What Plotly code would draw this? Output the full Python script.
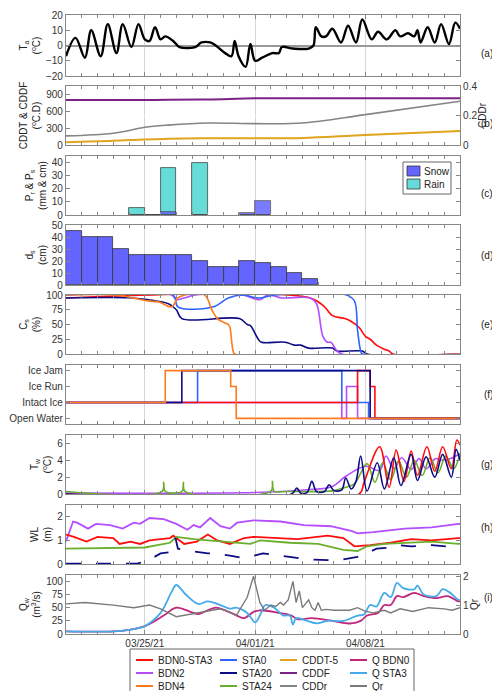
import pandas as pd
import plotly.graph_objects as go

BASE = pd.Timestamp("2021-03-20")
def T(days):
    return [BASE + pd.Timedelta(days=d) for d in days]

# (a) air temperature
ta_day = [0,0.6,1.2,1.6,2.2,2.65,3.2,3.6,4.15,4.6,5.0,5.3,5.65,6.0,6.3,6.8,7.2,8.2,8.6,9.15,9.5,10.1,10.5,10.7,10.95,11.4,11.7,12.0,12.45,13.1,13.5,13.7,14.4,15.4,15.7,15.85,16.2,16.5,16.9,17.45,17.9,18.4,18.8,19.4,19.8,20.35,20.9,21.2,21.7,22.1,22.3,22.5,22.95,23.4,23.8,24.3,24.7,25.0]
ta_val = [-7,5,-8,10,-7,14,-5,14,-1,14,4,3,12,4,6,3,-1,-1,2,2,0,-5,-7,3,-7,-14,1,-10,-8,-5,-5,-1,-2,-2,0,12,6,6,11,2,13,2,17,4,9,4,10,6,8,6,10,2,12,2,14,1,15,11]

# (b) cumulative degree days
b_day = [0,3,5,6.5,9,12,15,19,25]
cddt5 = [50,75,100,110,120,120,125,180,250]
cddf = [800,800,800,805,810,830,830,830,830]
cddr = [0.062,0.08,0.12,0.135,0.149,0.145,0.149,0.206,0.297]

# (c) precipitation, (d) snow depth
p_day = [4,5,6,8,11,12]
rain = [5,0,36,40,0,0]
snow = [0,0.3,2,0,1.5,11]
d_day = list(range(16))
ds = [45,40,40,30,25,25,25,25,20,15,15,20,18,15,10,5]

# (e) ice coverage
e_red_d = [0,15.5,16.4,16.9,17.7,18.1,18.6,19.0,19.3,19.7,20.2,20.5,20.75,25]
e_red_v = [95,95,80,65,60,55,45,30,25,15,8,5,0,0]
e_sta0_d = [0,6.8,7.1,9.35,10.3,11.2,12.2,13.3,17.8,18.3,18.5,18.7,18.8,25]
e_sta0_v = [100,100,80,80,95,100,95,100,100,90,40,5,0,0]
e_bdn2_d = [0,6.7,7.0,7.5,8.2,11.2,12.3,12.8,13.7,15.5,15.9,16.3,16.6,16.8,17.2,17.5,25]
e_bdn2_v = [100,100,92,95,100,100,92,100,95,95,85,30,20,20,5,0,0]
e_bdn4_d = [0,3.3,4.2,5.2,5.9,6.7,7.1,7.55,8.8,9.25,9.6,9.9,10.3,10.4,10.6,10.7,25]
e_bdn4_v = [100,100,95,90,88,80,95,100,100,75,60,55,50,45,5,0,0]
e_sta20_d = [0,4.2,5.2,6.5,7.0,7.35,11.0,11.5,11.7,12.2,12.4,13.9,14.5,14.9,15.4,16.9,17.2,18.8,19.1,25]
e_sta20_v = [95,95,92,85,75,60,60,50,48,25,20,20,15,15,10,10,5,5,0,0]

# (f) ice state: 0 Open Water, 1 Intact Ice, 2 Ice Run, 3 Ice Jam
f_bdn4_d = [0,6.3,10.45,10.8,25]; f_bdn4_v = [1,3,2,0,0]
f_sta20_d = [0,7.35,19.3,25]; f_sta20_v = [1,3,0,0]
f_sta0_d = [0,8.35,17.5,19.2,25]; f_sta0_v = [1,3,1,0,0]
f_bdn2_d = [0,17.5,17.8,18.5,25]; f_bdn2_v = [1,0,2,0,0]
f_red_d = [0,18.5,19.3,19.6,25]; f_red_v = [1,3,2,0,0]
state_labels = ["Open Water","Intact Ice","Ice Run","Ice Jam"]

# (g) water temperature
g_red_d = [0,18.6,18.9,19.9,20.5,20.95,21.45,21.9,22.3,22.9,23.4,23.9,24.45,24.8,25]
g_red_v = [0,0,1.3,5.6,0.8,5.2,1.5,5.1,2.2,5.6,2.7,5.6,3.0,6.4,5.8]
g_bdn2_d = [0,12.5,15.3,16.9,17.75,19.0,19.9,20.3,20.8,21.3,21.9,22.4,22.85,23.45,23.9,24.4,25]
g_bdn2_v = [0.1,0.2,0.5,0.9,2.1,3.3,2.8,4.5,3.0,4.3,2.9,4.2,3.0,4.2,4.0,4.2,4.8]
g_sta20_d = [0,14.3,14.65,14.9,15.3,15.6,15.9,16.4,16.7,17.0,17.5,17.75,18.1,18.4,18.7,19.1,19.75,20.2,20.8,21.25,21.9,22.3,22.85,23.4,23.9,24.45,24.75,25]
g_sta20_v = [0,0,0.7,0.1,0.2,1.5,0.3,0.3,1.1,0.4,0.5,1.9,0.6,1.5,4.5,0.35,3.7,0.6,4.3,1.0,4.7,1.6,4.4,2.0,4.7,2.0,5.3,4.0]
g_sta24_d = [0,6.1,6.2,6.3,7.35,7.45,7.55,13.0,13.1,13.2,14,17.0,17.75,18.3,19.1,19.6,20.1,20.6,21.1,21.6,22.1,22.6,23.1,23.6,24.1,24.6,25]
g_sta24_v = [0.3,0.3,1.4,0.3,0.3,1.4,0.3,0.35,1.5,0.35,0.3,0.4,0.8,1.2,3.6,1.4,3.7,1.7,3.9,2.0,4.0,2.2,4.3,2.5,4.5,3.0,4.8]

# (h) water level
h_bdn2_d = [0,0.45,0.7,1.4,1.9,2.8,3.6,4.3,4.7,5.3,6.2,7.0,7.7,8.1,8.5,9.15,9.8,10.4,10.85,11.9,13.6,15.1,16.8,18.1,18.5,19.5,21.5,23.2,24.9,25]
h_bdn2_v = [0.96,1.8,1.75,1.5,1.7,1.65,1.5,1.75,1.7,1.95,1.9,1.7,1.45,1.65,1.55,1.95,1.6,1.5,1.75,1.85,1.8,1.65,1.6,1.4,1.3,1.35,1.5,1.55,1.7,1.7]
h_red_d = [0,0.5,1.3,2.0,3.0,3.4,4.1,4.7,5.3,6.6,6.8,7.5,8.3,9.0,9.6,10.4,11.3,11.9,14.7,16.6,17.6,18.3,19.3,20.6,21.9,23.2,24.9,25]
h_red_v = [1.25,1.15,0.95,1.15,1.1,0.85,0.95,0.85,1.0,1.1,1.2,0.85,0.95,1.25,1.0,0.85,1.1,1.15,1.05,1.2,1.1,0.75,0.8,0.9,1.05,1.0,1.1,1.1]
h_sta24_d = [0,4,5,6.6,7.0,8.1,9.8,11.7,12.3,14.2,16.0,17.6,18.5,19.1,20.2,21.9,23.2,24.9,25]
h_sta24_v = [0.65,0.67,0.7,0.9,1.15,1.05,0.95,0.85,1.0,0.9,0.85,0.6,0.55,0.75,0.85,0.9,0.95,0.85,0.85]
h_sta20_d = [0,4.5,5.1,6.0,6.6,6.95,7.1,7.9,9.0,9.6,10.4,11.3,12.5,13.6,15.3,17.2,18.5,19.1,19.7,20.6,21.0,21.9,23.2,24.9,25]
h_sta20_v = [0.02,0.02,0.1,0.45,0.5,1.1,0.65,0.55,0.45,0.45,0.35,0.25,0.45,0.35,0.2,0.15,0.3,0.45,0.65,0.7,0.8,0.75,0.8,0.7,0.7]

# (i) discharge
q_sta3_d = [0,3,4,5.0,6.0,6.7,7.0,7.6,8.4,9.0,9.8,10.4,10.8,11.5,12.0,12.3,12.65,13.2,13.8,14.2,14.4,14.6,15.3,15.9,16.6,17.6,18.5,18.9,19.3,19.7,20.2,20.6,21.0,21.4,22.1,22.3,22.7,23.5,23.9,24.3,24.9,25]
q_sta3_v = [5,5,8,15,40,80,93,75,57,62,55,48,50,40,22,35,55,50,35,35,18,30,25,20,25,25,35,37,55,52,78,70,97,87,85,92,75,72,85,80,65,65]
q_bdn0_d = [0,3,4,5.0,6.2,7.0,7.9,8.4,9.0,9.5,10.1,10.85,11.3,11.9,12.3,13.5,14.3,14.7,15.6,16.9,18.1,18.7,19.1,19.8,20.2,20.6,21.0,21.4,22.1,22.7,23.5,24.2,24.9,25]
q_bdn0_v = [5,5,8,15,35,50,42,38,45,50,45,35,30,42,45,40,35,28,30,25,20,25,35,40,55,55,72,70,78,72,68,72,62,62]
qr_d = [0,1.2,3,4.3,5.3,6,7,8.4,9.8,10.4,10.8,11.5,11.9,12.3,12.6,13,13.3,13.6,13.8,14.1,14.4,14.6,14.8,15.0,15.4,15.6,15.8,16.0,16.2,16.5,17,18,18.5,19,19.5,20.2,20.6,21.2,22,23,24,24.5,25]
qr_v = [1.04,1.09,1.0,0.91,1.0,0.87,0.6,0.73,0.87,0.76,0.64,1.27,2.0,1.09,0.82,1.0,0.95,1.09,1.0,1.18,1.82,1.09,1.49,0.91,1.18,0.91,0.82,1.09,0.82,0.85,0.82,0.82,0.91,0.78,0.73,0.82,0.73,0.87,0.78,0.91,0.87,0.82,0.91]

legend_names = [["BDN0-STA3","BDN2","BDN4"],["STA0","STA20","STA24"],["CDDT-5","CDDF","CDDr"],["Q BDN0","Q STA3","Qr"]]
C = {"BDN0-STA3":"#ff0d0d","STA0":"#2e64ff","CDDT-5":"#e0a41e","Q BDN0":"#c2257c",
     "BDN2":"#b44dff","STA20":"#0c0c86","CDDF":"#7b2384","Q STA3":"#44aaea",
     "BDN4":"#ff7a1c","STA24":"#6aae2c","CDDr":"#858585","Qr":"#7a7a7a"}

H = 691.0
W = 500.0
panels = [(7,68),(78,137),(148,207),(217,277),(287,346),(357,416),(427,486),(497,556),(567,626)]
fig = go.Figure()
FAM = "Liberation Sans, Arial"
FONT = dict(family=FAM, size=10, color="#333")
TFONT = dict(family=FAM, size=10, color="#222")
xr = [BASE, BASE + pd.Timedelta(days=25)]
ticks = [pd.Timestamp("2021-03-25"), pd.Timestamp("2021-04-01"), pd.Timestamp("2021-04-08")]

def px(x): return x / W
def py(y): return 1 - y / H

def ax(i):
    return ("x" if i == 1 else f"x{i}"), ("y" if i == 1 else f"y{i}")

def line(i, d, v, color, w=1.6, shape="linear", dash=None, yax=None):
    xa, ya = ax(i)
    fig.add_trace(go.Scatter(x=T(d), y=v, mode="lines", xaxis=xa, yaxis=yax or ya,
                             line=dict(color=color, width=w, shape=shape, dash=dash), showlegend=False))

line(1, ta_day, ta_val, "black", 2.4, "spline")
line(2, b_day, cddt5, C["CDDT-5"], 2, "spline")
line(2, b_day, cddf, C["CDDF"], 2, "spline")
line(2, b_day, cddr, C["CDDr"], 1.6, "spline", yax="y10")
fig.add_trace(go.Bar(x=T([d + 0.5 for d in p_day]), y=rain, width=86400000, marker=dict(color="#66dcd8", line=dict(color="#444", width=0.8)),
                     xaxis="x3", yaxis="y3", showlegend=False))
fig.add_trace(go.Bar(x=T([d + 0.5 for d in p_day]), y=snow, width=86400000, marker=dict(color="#6464ff", opacity=0.85, line=dict(color="#444", width=0.8)),
                     xaxis="x3", yaxis="y3", showlegend=False))
fig.add_trace(go.Bar(x=T([d + 0.5 for d in d_day]), y=ds, width=86400000, marker=dict(color="#6464ff", line=dict(color="#333", width=0.8)),
                     xaxis="x4", yaxis="y4", showlegend=False))
for d, v, k in [(e_red_d,e_red_v,"BDN0-STA3"),(e_sta20_d,e_sta20_v,"STA20"),(e_bdn2_d,e_bdn2_v,"BDN2"),(e_sta0_d,e_sta0_v,"STA0"),(e_bdn4_d,e_bdn4_v,"BDN4")]:
    line(5, d, v, C[k], 1.6, "spline")
for d, v, k in [(f_bdn2_d,f_bdn2_v,"BDN2"),(f_sta0_d,f_sta0_v,"STA0"),(f_red_d,f_red_v,"BDN0-STA3"),(f_sta20_d,f_sta20_v,"STA20"),(f_bdn4_d,f_bdn4_v,"BDN4")]:
    line(6, d, v, C[k], 1.6, "hv")
for d, v, k in [(g_bdn2_d,g_bdn2_v,"BDN2"),(g_sta24_d,g_sta24_v,"STA24"),(g_red_d,g_red_v,"BDN0-STA3"),(g_sta20_d,g_sta20_v,"STA20")]:
    line(7, d, v, C[k], 1.6, "spline")
line(8, h_bdn2_d, h_bdn2_v, C["BDN2"], 1.8)
line(8, h_red_d, h_red_v, C["BDN0-STA3"], 1.8)
line(8, h_sta24_d, h_sta24_v, C["STA24"], 1.8)
line(8, h_sta20_d, h_sta20_v, C["STA20"], 1.8, dash="longdash")
line(9, qr_d, qr_v, C["Qr"], 1.4, yax="y11")
line(9, q_bdn0_d, q_bdn0_v, C["Q BDN0"], 1.8, "spline")
line(9, q_sta3_d, q_sta3_v, C["Q STA3"], 1.8, "spline")

AX = dict(showline=True, linecolor="#888", linewidth=1.2, mirror="ticks", ticks="inside", ticklen=4,
          tickcolor="#888", tickfont=FONT, zeroline=False, automargin=False)
ycfg = {
    1: dict(range=[-20,20], tickvals=[-20,-10,0,10,20], title="T<sub>a</sub><br>(<sup>o</sup>C)"),
    2: dict(range=[0,1050], tickvals=[0,300,600,900], title="CDDT & CDDF<br>(<sup>o</sup>C.D)"),
    3: dict(range=[0,45], tickvals=[0,10,20,30,40], title="P<sub>r</sub> & P<sub>s</sub><br>(mm & cm)"),
    4: dict(range=[0,50], tickvals=[0,10,20,30,40,50], title="d<sub>s</sub><br>(cm)"),
    5: dict(range=[0,100], tickvals=[0,25,50,75,100], title="C<sub>s</sub><br>(%)"),
    6: dict(range=[-0.35,3.35], tickvals=[0,1,2,3], ticktext=state_labels, title=""),
    7: dict(range=[0,7], tickvals=[0,2,4,6], title="T<sub>w</sub><br>(<sup>o</sup>C)"),
    8: dict(range=[0,2.5], tickvals=[0,1,2], title="WL<br>(m)"),
    9: dict(range=[0,112], tickvals=[0,25,50,75,100], title="Q<sub>w</sub><br>(m<sup>3</sup>/s)"),
}
lay = {}
labels = "abcdefghi"
ann = []
shapes = []
for i, (t, b) in enumerate(panels, start=1):
    dom = [py(b), py(t)]
    xk = "xaxis" if i == 1 else f"xaxis{i}"
    yk = "yaxis" if i == 1 else f"yaxis{i}"
    c = ycfg[i]
    lay[xk] = dict(AX, domain=[px(58), px(452)], anchor=ax(i)[1], range=xr, type="date",
                   tickvals=ticks, ticktext=["03/25/21","04/01/21","04/08/21"] if i == 9 else ["", "", ""],
                   showgrid=True, gridcolor="#d6d6d6", gridwidth=1,
                   minor=dict(dtick=86400000, ticks="inside", ticklen=3, tickcolor="#888", showgrid=False),
                   **({} if i == 1 else {"matches": "x"}))
    ya = dict(AX, domain=dom, anchor=ax(i)[0], range=c["range"], tickvals=c["tickvals"], showgrid=False,
              title=dict(text=c["title"], font=TFONT, standoff=3))
    if "ticktext" in c:
        ya["ticktext"] = c["ticktext"]
    if i == 1:
        ya.update(zeroline=True, zerolinecolor="#999", zerolinewidth=2)
    lay[yk] = ya
    ann.append(dict(text=f"({labels[i-1]})", x=px(487), y=(dom[0] + dom[1]) / 2, xref="paper", yref="paper",
                    showarrow=False, font=TFONT))
lay["yaxis2"]["mirror"] = False
lay["yaxis9"]["mirror"] = False
lay["yaxis10"] = dict(AX, overlaying="y2", side="right", anchor="x2", range=[0,0.4], tickvals=[0,0.2,0.4], mirror=False,
                      title=dict(text="CDDr", font=TFONT, standoff=1))
lay["yaxis11"] = dict(AX, overlaying="y9", side="right", anchor="x9", range=[0,2.04], tickvals=[0,1,2], mirror=False,
                      title=dict(text="Qr", font=TFONT, standoff=1))

# main legend (manual)
shapes.append(dict(type="rect", xref="paper", yref="paper", x0=px(122), x1=px(406), y0=py(687), y1=py(641),
                   line=dict(color="#666", width=1), fillcolor="white"))
col_x = [128, 212, 272, 342]
row_y = [652, 665, 678]
for ci, col in enumerate(legend_names):
    for ri, name in enumerate(col):
        x0 = col_x[ci]; y = row_y[ri]
        shapes.append(dict(type="line", xref="paper", yref="paper", x0=px(x0), x1=px(x0 + 17), y0=py(y), y1=py(y),
                           line=dict(color=C[name], width=2)))
        ann.append(dict(text=name, x=px(x0 + 20), y=py(y), xref="paper", yref="paper", xanchor="left",
                        yanchor="middle", showarrow=False, font=TFONT))
# Snow / Rain legend (manual)
shapes.append(dict(type="rect", xref="paper", yref="paper", x0=px(395), x1=px(443), y0=py(186), y1=py(154),
                   line=dict(color="#666", width=1), fillcolor="white"))
for name, col, y in [("Snow", "#6464ff", 163), ("Rain", "#66dcd8", 176)]:
    shapes.append(dict(type="rect", xref="paper", yref="paper", x0=px(399), x1=px(412), y0=py(y + 5), y1=py(y - 5),
                       line=dict(color="#333", width=0.8), fillcolor=col))
    ann.append(dict(text=name, x=px(414), y=py(y), xref="paper", yref="paper", xanchor="left",
                    yanchor="middle", showarrow=False, font=TFONT))

fig.update_layout(**lay)
fig.update_layout(
    width=500, height=691, margin=dict(l=0, r=0, t=0, b=0, autoexpand=False), plot_bgcolor="white", paper_bgcolor="white",
    annotations=ann, shapes=shapes, barmode="overlay", bargap=0, showlegend=False,
)
fig.write_html("out.html")
